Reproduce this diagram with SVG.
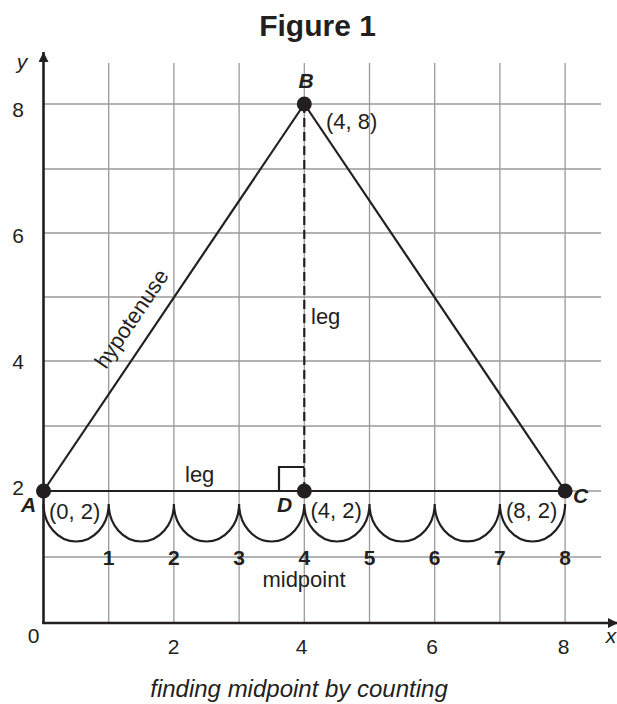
<svg xmlns="http://www.w3.org/2000/svg" width="617" height="704" viewBox="0 0 617 704">
<style>
text{font-family:"Liberation Sans",Arial,sans-serif;fill:#231f20}
.lbl{font-size:22px}
.ax{font-size:21px}
.num{font-size:21px;font-weight:bold;text-anchor:middle}
.pt{font-size:21px;font-weight:bold;font-style:italic}
.grid line{stroke:#9a9a9a;stroke-width:1.3}
.edge{stroke:#231f20;fill:none;stroke-width:2.2}
</style>
<defs>
<marker id="arr" viewBox="0 0 10 10" refX="10" refY="5" markerWidth="10" markerHeight="10" markerUnits="userSpaceOnUse" orient="auto">
<path d="M0,0 L10,5 L0,10 Z" fill="#231f20"/>
</marker>
</defs>
<rect width="617" height="704" fill="#fff"/>
<text x="317.5" y="36" font-size="30" font-weight="bold" text-anchor="middle">Figure 1</text>
<g id="grid" class="grid">
<line x1="108.7" y1="63" x2="108.7" y2="623"/>
<line x1="173.9" y1="63" x2="173.9" y2="623"/>
<line x1="239.1" y1="63" x2="239.1" y2="623"/>
<line x1="304.3" y1="63" x2="304.3" y2="623"/>
<line x1="369.5" y1="63" x2="369.5" y2="623"/>
<line x1="434.7" y1="63" x2="434.7" y2="623"/>
<line x1="499.9" y1="63" x2="499.9" y2="623"/>
<line x1="565.1" y1="63" x2="565.1" y2="623"/>
<line x1="43.5" y1="104" x2="601" y2="104"/>
<line x1="43.5" y1="169" x2="601" y2="169"/>
<line x1="43.5" y1="233" x2="601" y2="233"/>
<line x1="43.5" y1="297" x2="601" y2="297"/>
<line x1="43.5" y1="361" x2="601" y2="361"/>
<line x1="43.5" y1="426" x2="601" y2="426"/>
<line x1="43.5" y1="491" x2="601" y2="491"/>
<line x1="43.5" y1="557" x2="601" y2="557"/>
</g>
<g id="axes" stroke="#231f20" stroke-width="2.6">
<line x1="43.5" y1="624" x2="43.5" y2="52" marker-end="url(#arr)"/>
<line x1="42.2" y1="623" x2="618" y2="623" marker-end="url(#arr)"/>
</g>
<g id="axis-labels">
<text class="ax" x="22" y="69" font-style="italic" text-anchor="middle">y</text>
<text class="ax" x="611" y="643" font-style="italic" text-anchor="middle">x</text>
<text class="ax" x="18" y="117" text-anchor="middle">8</text>
<text class="ax" x="18" y="243" text-anchor="middle">6</text>
<text class="ax" x="18" y="369" text-anchor="middle">4</text>
<text class="ax" x="18" y="495" text-anchor="middle">2</text>
<text class="ax" x="33.5" y="643" text-anchor="middle">0</text>
<text class="ax" x="173.5" y="654" text-anchor="middle">2</text>
<text class="ax" x="301.5" y="654" text-anchor="middle">4</text>
<text class="ax" x="432" y="654" text-anchor="middle">6</text>
<text class="ax" x="563.5" y="654" text-anchor="middle">8</text>
</g>
<g id="connectors">
<line class="edge" x1="43.5" y1="491" x2="304.3" y2="104"/>
<line class="edge" x1="304.3" y1="104" x2="565.1" y2="491"/>
<line class="edge" x1="43.5" y1="491" x2="565.1" y2="491" stroke-width="2.8"/>
<line class="edge" x1="304.3" y1="104" x2="304.3" y2="491" stroke-width="2.8" stroke-dasharray="9,5"/>
<path class="edge" d="M279,491 V467 H304.3" stroke-width="1.5"/>
<path class="edge" d="M43.5,504 A32.6 37.5 0 0 0 108.7,504 A32.6 37.5 0 0 0 173.9,504 A32.6 37.5 0 0 0 239.1,504 A32.6 37.5 0 0 0 304.3,504 A32.6 37.5 0 0 0 369.5,504 A32.6 37.5 0 0 0 434.7,504 A32.6 37.5 0 0 0 499.9,504 A32.6 37.5 0 0 0 565.1,504"/>
</g>
<g id="node-A">
<circle cx="43.5" cy="491" r="7.5" fill="#231f20"/>
<text class="pt" x="21" y="512">A</text>
<text class="lbl" x="49" y="519">(0, 2)</text>
</g>
<g id="node-B">
<circle cx="304.3" cy="104" r="7.5" fill="#231f20"/>
<text class="pt" x="306" y="88" text-anchor="middle">B</text>
<text class="lbl" x="326" y="129">(4, 8)</text>
</g>
<g id="node-C">
<circle cx="565.1" cy="491" r="7.5" fill="#231f20"/>
<text class="pt" x="573" y="503">C</text>
<text class="lbl" x="506" y="518">(8, 2)</text>
</g>
<g id="node-D">
<circle cx="304.3" cy="491" r="7.5" fill="#231f20"/>
<text class="pt" x="277" y="512">D</text>
<text class="lbl" x="310.5" y="518">(4, 2)</text>
</g>
<g id="labels">
<text class="lbl" x="185" y="482">leg</text>
<text class="lbl" x="311" y="324">leg</text>
<text class="lbl" transform="translate(106,370) rotate(-56)">hypotenuse</text>
<text class="lbl" x="304" y="587" text-anchor="middle">midpoint</text>
<text class="num" x="108.7" y="565">1</text>
<text class="num" x="173.9" y="565">2</text>
<text class="num" x="239.1" y="565">3</text>
<text class="num" x="304.3" y="565">4</text>
<text class="num" x="369.5" y="565">5</text>
<text class="num" x="434.7" y="565">6</text>
<text class="num" x="499.9" y="565">7</text>
<text class="num" x="565.1" y="565">8</text>
</g>
<text x="299" y="697" font-size="24" font-style="italic" text-anchor="middle">finding midpoint by counting</text>
</svg>
